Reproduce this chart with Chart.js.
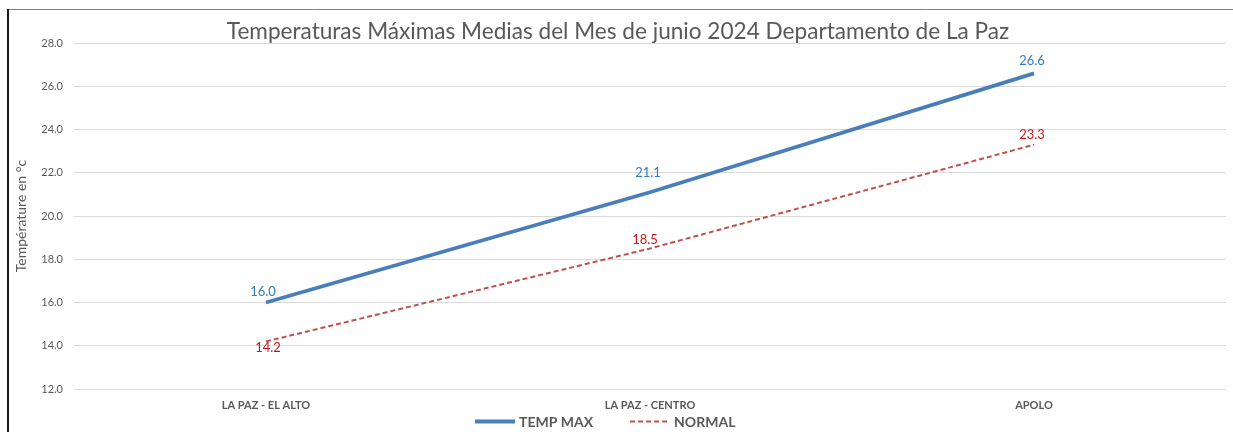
<!DOCTYPE html>
<html>
<head>
<meta charset="utf-8">
<script src="https://cdn.jsdelivr.net/npm/chart.js@4.4.1/dist/chart.umd.min.js"></script>
<style>
  html, body { margin: 0; padding: 0; background: #ffffff; }
  #wrap { position: relative; width: 1233px; height: 432px; }
</style>
</head>
<body>
<div id="wrap"><canvas id="c" width="1233" height="432"></canvas></div>
<script>
// ---- data ----
const categories = ['LA PAZ - EL ALTO', 'LA PAZ - CENTRO', 'APOLO'];
const tempMax = [16.0, 21.1, 26.6];
const normal = [14.2, 18.5, 23.3];
const seriesNames = ['TEMP MAX', 'NORMAL'];
const yTicks = [12, 14, 16, 18, 20, 22, 24, 26, 28];
const titleText = 'Temperaturas Máximas Medias del Mes de junio 2024 Departamento de La Paz';
const yTitle = 'Température en °c';

// ---- styles ----
const FONT = 'Lato, "Open Sans", sans-serif';
const GREY = '#595959';
const labelStyle = [
  { color: '#2E7BC4', offsets: [[-3, -11], [-2, -19], [-2, -13]] },
  { color: '#C8161D', offsets: [[2, 6], [-5, -9], [-2, -10]] }
];

const dataLabelPlugin = {
  id: 'dataLabels',
  afterDatasetsDraw(chart) {
    const ctx = chart.ctx;
    ctx.save();
    ctx.font = '13px ' + FONT;
    ctx.textAlign = 'center';
    ctx.textBaseline = 'middle';
    chart.data.datasets.forEach((ds, i) => {
      const meta = chart.getDatasetMeta(i);
      ctx.fillStyle = labelStyle[i].color;
      meta.data.forEach((pt, j) => {
        const off = labelStyle[i].offsets[j];
        ctx.fillText(ds.data[j].toFixed(1), pt.x + off[0], pt.y + off[1]);
      });
    });
    ctx.restore();
  }
};

const framePlugin = {
  id: 'frame',
  afterDraw(chart) {
    const ctx = chart.ctx;
    ctx.save();
    ctx.strokeStyle = '#808080';
    ctx.lineWidth = 1;
    ctx.beginPath();
    ctx.moveTo(7, 9.5);
    ctx.lineTo(chart.width, 9.5);
    ctx.stroke();
    ctx.strokeStyle = '#1a1a1a';
    ctx.lineWidth = 2;
    ctx.beginPath();
    ctx.moveTo(8, 9);
    ctx.lineTo(8, chart.height);
    ctx.stroke();
    ctx.restore();
  }
};

const legendPlugin = {
  id: 'customLegend',
  afterDraw(chart) {
    const ctx = chart.ctx;
    ctx.save();
    ctx.font = 'bold 14px ' + FONT;
    ctx.textBaseline = 'middle';
    ctx.textAlign = 'left';
    const sample = 40, gapText = 4, gapItem = 37;
    const items = chart.data.datasets.map(ds => ({ ds, w: sample + gapText + ctx.measureText(ds.label).width }));
    let x = 475;
    const y = 421.5;
    items.forEach(it => {
      ctx.strokeStyle = it.ds.borderColor;
      ctx.lineWidth = it.ds.borderWidth;
      ctx.setLineDash(it.ds.borderDash || []);
      ctx.beginPath();
      ctx.moveTo(x, y);
      ctx.lineTo(x + sample, y);
      ctx.stroke();
      ctx.setLineDash([]);
      ctx.fillStyle = GREY;
      ctx.fillText(it.ds.label, x + sample + gapText, y + 1);
      x += it.w + gapItem;
    });
    ctx.restore();
  }
};

new Chart(document.getElementById('c'), {
  type: 'line',
  data: {
    labels: categories,
    datasets: [
      {
        label: seriesNames[0],
        data: tempMax,
        borderColor: '#4A7EBB',
        borderWidth: 3.8,
        pointRadius: 0,
        tension: 0,
        fill: false
      },
      {
        label: seriesNames[1],
        data: normal,
        borderColor: '#C0504D',
        borderWidth: 2,
        borderDash: [5, 3],
        pointRadius: 0,
        tension: 0,
        fill: false
      }
    ]
  },
  options: {
    responsive: false,
    animation: false,
    devicePixelRatio: 1,
    layout: { padding: { left: 10, right: 7, top: 0, bottom: 21 } },
    plugins: {
      legend: { display: false },
      tooltip: { enabled: false },
      title: {
        display: true,
        text: titleText,
        color: GREY,
        font: { family: FONT, size: 22.6, weight: 'normal' },
        padding: { top: 18, bottom: -2 }
      }
    },
    scales: {
      x: {
        offset: true,
        grid: { display: false, drawTicks: false },
        border: { display: false },
        ticks: {
          color: GREY,
          padding: 10,
          maxRotation: 0,
          font: { family: FONT, size: 11, weight: 'bold' }
        },
        afterFit(scale) { scale.height = 22; }
      },
      y: {
        min: 12,
        max: 28,
        afterBuildTicks(scale) { scale.ticks = yTicks.map(v => ({ value: v })); },
        grid: { color: '#d9d9d9', lineWidth: 1, drawTicks: false },
        border: { display: false },
        ticks: {
          color: GREY,
          padding: 11,
          font: { family: FONT, size: 11 },
          callback: v => Number(v).toFixed(1)
        },
        title: {
          display: true,
          text: yTitle,
          color: GREY,
          font: { family: FONT, size: 14 },
          padding: { top: 3, bottom: 4 }
        },
        afterFit(scale) { scale.width = 64; }
      }
    }
  },
  plugins: [dataLabelPlugin, framePlugin, legendPlugin]
});
</script>
</body>
</html>
